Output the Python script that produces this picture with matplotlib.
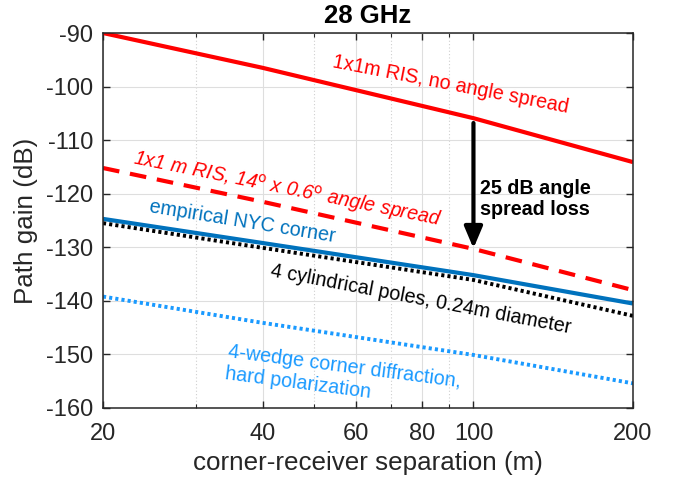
import matplotlib
matplotlib.use("Agg")
import matplotlib.pyplot as plt
from matplotlib.ticker import FixedLocator, NullFormatter

plt.rcParams['font.family'] = ['Liberation Sans', 'DejaVu Sans']

# Data (distance in m, path gain in dB)
dist = [20, 40, 100, 200]
ris_no_spread = [-90.0, -96.5, -105.9, -114.1]
ris_spread = [-115.2, -121.5, -130.3, -138.0]
nyc_corner = [-124.7, -129.2, -135.2, -140.5]
cyl_poles = [-125.5, -130.1, -136.1, -142.8]
wedge_corner = [-139.2, -144.1, -150.1, -155.4]

xticks = [20, 40, 60, 80, 100, 200]
xminor = [30, 50, 70, 90]
yticks = [-160, -150, -140, -130, -120, -110, -100, -90]

AX = '#262626'
RED = '#FF0000'
BLUE = '#0072BD'
LBLUE = '#1A9AFF'

fig = plt.figure(figsize=(6.78, 4.79), dpi=100)
ax = fig.add_axes([103/678, 1-408/479, 530/678, 375/479])

ax.plot(dist, ris_no_spread, color=RED, lw=3, solid_capstyle='butt')
ax.plot(dist, ris_spread, color=RED, lw=3, dashes=(4, 2.6), dash_capstyle='butt')
ax.plot(dist, nyc_corner, color=BLUE, lw=3, solid_capstyle='butt')
ax.plot(dist, cyl_poles, color='black', lw=2.8, dashes=(0.8, 0.8), dash_capstyle='butt')
ax.plot(dist, wedge_corner, color=LBLUE, lw=2.8, dashes=(0.8, 0.8), dash_capstyle='butt')

ax.set_xscale('log')
ax.set_xlim(20, 200)
ax.set_ylim(-160, -90)
ax.xaxis.set_major_locator(FixedLocator(xticks))
ax.xaxis.set_minor_locator(FixedLocator(xminor))
ax.xaxis.set_minor_formatter(NullFormatter())
ax.set_xticklabels([str(t) for t in xticks])
ax.set_yticks(yticks)
ax.set_yticklabels([str(t) for t in yticks])

ax.grid(True, which='major', color='#DEDEDE', lw=0.8, ls='-')
ax.grid(True, which='minor', axis='x', color='#CFCFCF', lw=0.8, ls=(0, (1, 2)))
ax.set_axisbelow(True)

ax.tick_params(which='both', direction='in', top=True, right=True, colors=AX,
               labelsize=17)
ax.tick_params(which='major', length=5, width=1)
ax.tick_params(which='minor', length=3, width=0.8)
ax.tick_params(axis='x', pad=11)
ax.tick_params(axis='y', pad=7)
for s in ax.spines.values():
    s.set_color(AX)
    s.set_linewidth(1.1)

ax.set_xlabel('corner-receiver separation (m)', fontsize=18.7, color=AX, labelpad=4)
ax.set_ylabel('Path gain (dB)', fontsize=18.7, color=AX, labelpad=6)
ax.set_title('28 GHz', fontsize=18.5, fontweight='bold', color='black', pad=7)

kw = dict(rotation_mode='anchor', ha='center', va='center', fontsize=14.2)
ax.text(90.7, -99.7, '1x1m RIS, no angle spread', color=RED, rotation=-11, **kw)
ax.text(44.5, -119.1, r'1x1 m RIS, 14$^{\rm o}$ x 0.6$^{\rm o}$ angle spread',
        color=RED, rotation=-11.4, style='italic', **kw)
ax.text(36.6, -125.3, 'empirical NYC corner', color=BLUE, rotation=-9.2, **kw)
ax.text(79.6, -139.8, '4 cylindrical poles, 0.24m diameter', color='black',
        rotation=-10.8, **kw)
kw2 = dict(rotation_mode='anchor', ha='left', va='center', fontsize=14.2,
           color=LBLUE, rotation=-7.4)
ax.text(34.4, -149.5, '4-wedge corner diffraction,', **kw2)
ax.text(34.0, -153.5, 'hard polarization', **kw2)

ax.annotate('', xy=(100, -130.2), xytext=(100, -106.8),
            arrowprops=dict(arrowstyle='-|>,head_length=1.3,head_width=0.55',
                            color='black', lw=3, shrinkA=0, shrinkB=0))
ax.text(130.6, -121.0, '25 dB angle\nspread loss', fontsize=14.2, fontweight='bold',
        ha='center', va='center', multialignment='center', color='black',
        linespacing=1.1)

fig.savefig('out.png', dpi=100)
